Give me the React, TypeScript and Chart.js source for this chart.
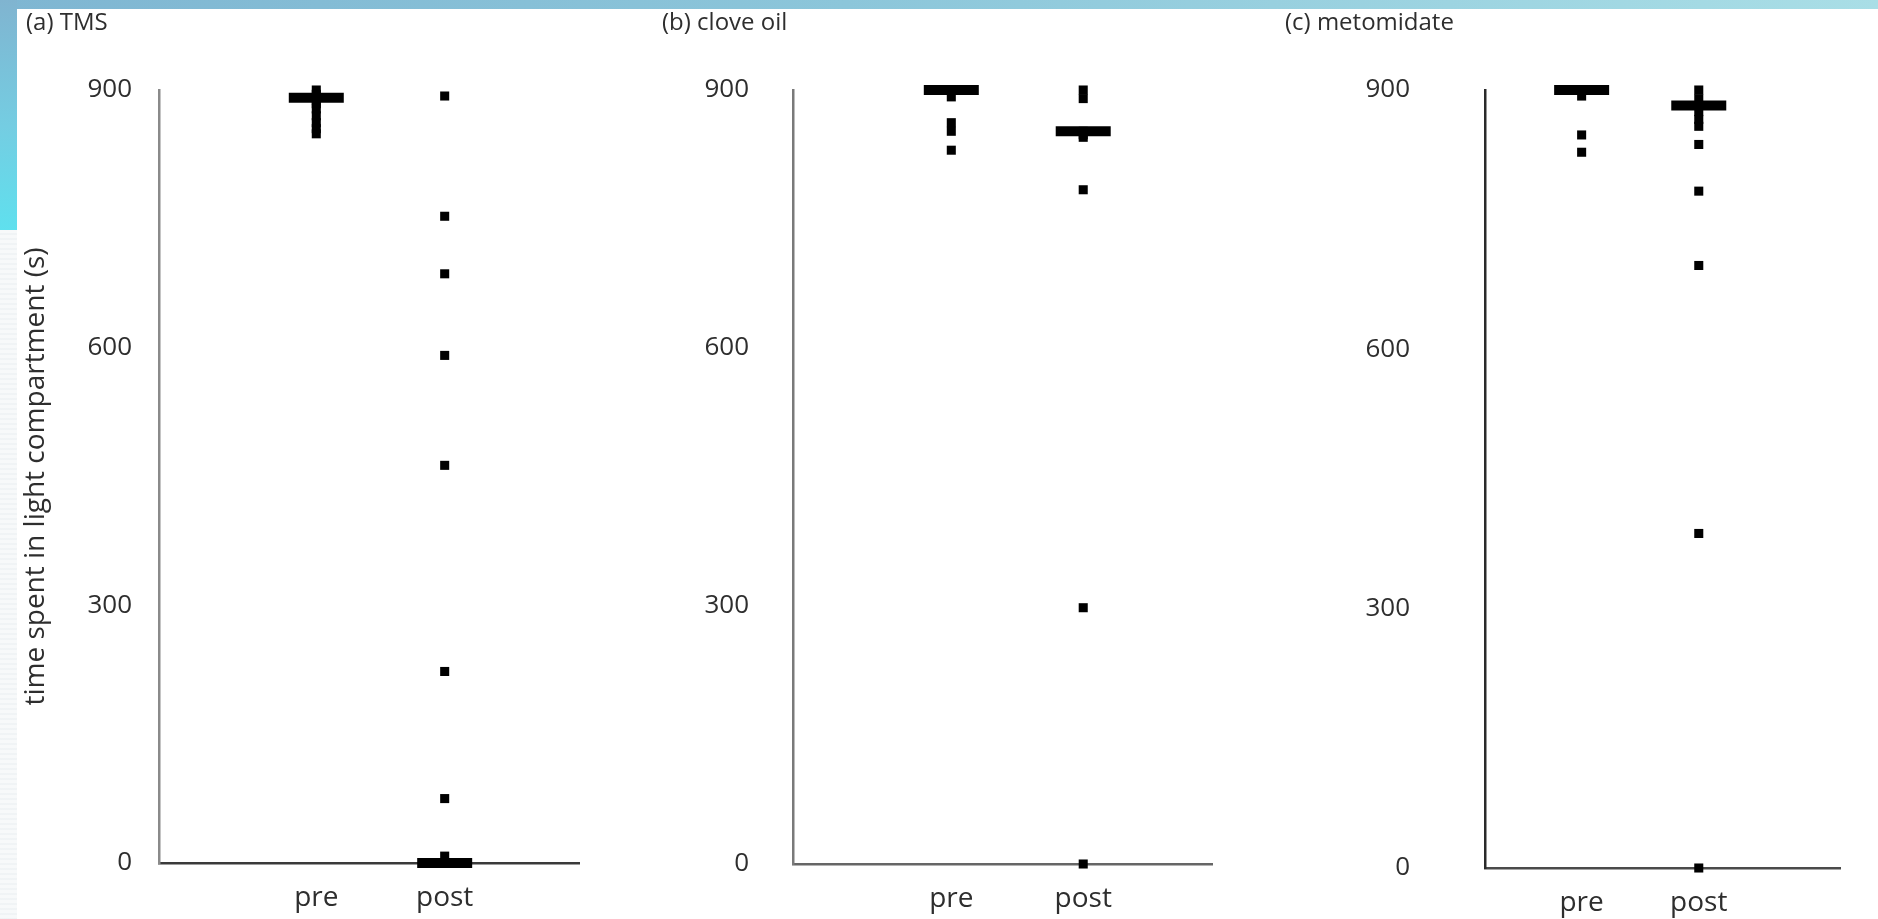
import React, { useEffect, useRef } from "react";
import { Chart, registerables } from "chart.js";

Chart.register(...registerables);

// ---------- data ----------
const categories = ["pre", "post"];
const categoryX = [1, 2];
const yTickValues = [0, 300, 600, 900];
const panelTitles = ["(a) TMS", "(b) clove oil", "(c) metomidate"];
const yAxisTitle = "time spent in light compartment (s)";

const tmsPre = [900, 895, 891, 888, 884, 878, 870, 862, 855, 849];
const tmsPost = [893, 753, 686, 591, 463, 223, 75, 8, 0, 0, 0, 0, 0, 0];
const tmsMedians = [891, 0];

const cloveOilPre = [900, 900, 900, 900, 892, 862, 852, 830];
const cloveOilPost = [900, 890, 852, 848, 845, 784, 298, 0];
const cloveOilMedians = [900, 852];

const metomidatePre = [900, 900, 900, 900, 893, 848, 828];
const metomidatePost = [900, 890, 882, 875, 866, 858, 837, 783, 697, 387, 0];
const metomidateMedians = [900, 882];

// ---------- layout ----------
const FONT = "Open Sans";
const TEXT = "#2e2e2e";
const CANVAS_TOP = 9;
const X_AXIS_H = 90;

type PanelCfg = {
  title: string;
  pre: number[];
  post: number[];
  medians: number[];
  left: number;
  width: number;
  plotBottom: number; // page y of the x axis line
  padLeft: number;
  padRight: number;
  yWidth: number;
  xMin: number;
  xMax: number;
  yTickPad: number;
  showYTitle: boolean;
  yColor: string;
  xColor: string;
};

const panels: PanelCfg[] = [
  {
    title: panelTitles[0], pre: tmsPre, post: tmsPost, medians: tmsMedians,
    left: 17, width: 600, plotBottom: 863, padLeft: 9, padRight: 36, yWidth: 133,
    xMin: -0.225, xMax: 3.05, yTickPad: 27,
    showYTitle: true, yColor: "#8a8a8a", xColor: "#3a3a3a",
  },
  {
    title: panelTitles[1], pre: cloveOilPre, post: cloveOilPost, medians: cloveOilMedians,
    left: 650, width: 600, plotBottom: 864, padLeft: 12, padRight: 28, yWidth: 131,
    xMin: -0.2, xMax: 2.98, yTickPad: 44,
    showYTitle: false, yColor: "#7a7a7a", xColor: "#666666",
  },
  {
    title: panelTitles[2], pre: metomidatePre, post: metomidatePost, medians: metomidateMedians,
    left: 1275, width: 603, plotBottom: 868, padLeft: 10, padRight: 10, yWidth: 200,
    xMin: 0.175, xMax: 3.21, yTickPad: 75,
    showYTitle: false, yColor: "#2a2a2a", xColor: "#4a4a4a",
  },
];

function Panel({ cfg }: { cfg: PanelCfg }) {
  const ref = useRef<HTMLCanvasElement | null>(null);
  const height = cfg.plotBottom - CANVAS_TOP + X_AXIS_H;
  useEffect(() => {
    if (!ref.current) return;
    const base = { family: FONT, weight: "normal" as const };
    const pointDs = (vals: number[], x: number) => ({
      data: vals.map((v) => ({ x, y: v })),
      pointStyle: "rect",
      pointRadius: 6.4,
      pointBackgroundColor: "#000",
      pointBorderWidth: 0,
      clip: false,
    });
    const chart = new Chart(ref.current, {
      type: "scatter",
      data: {
        datasets: [
          pointDs(cfg.pre, categoryX[0]),
          pointDs(cfg.post, categoryX[1]),
          {
            data: cfg.medians.map((v, i) => ({ x: categoryX[i], y: v })),
            pointStyle: "line",
            pointRadius: 27.5,
            pointBorderColor: "#000",
            pointBorderWidth: 10,
            clip: false,
          },
        ] as any,
      },
      options: {
        animation: false,
        responsive: false,
        maintainAspectRatio: false,
        events: [],
        layout: { padding: { left: cfg.padLeft, right: cfg.padRight, top: 0, bottom: 0 } },
        plugins: {
          legend: { display: false },
          tooltip: { enabled: false },
          title: {
            display: true,
            text: cfg.title,
            align: "start",
            color: TEXT,
            font: { ...base, size: 24, lineHeight: 1.2 },
            padding: { top: 0, bottom: 52.2 },
          },
        },
        scales: {
          x: {
            type: "linear",
            min: cfg.xMin,
            max: cfg.xMax,
            afterBuildTicks: (s: any) => {
              s.ticks = categoryX.map((v) => ({ value: v }));
            },
            afterFit: (s: any) => {
              s.height = X_AXIS_H;
            },
            ticks: {
              callback: (v: any) => {
                const i = categoryX.indexOf(Number(v));
                return i >= 0 ? categories[i] : "";
              },
              color: TEXT,
              font: { ...base, size: 28 },
              padding: 18,
              maxRotation: 0,
              autoSkip: false,
            },
            grid: { display: false, drawTicks: false },
            border: { display: true, color: cfg.xColor, width: 2.5 },
          },
          y: {
            type: "linear",
            min: 0,
            max: 900,
            afterBuildTicks: (s: any) => {
              s.ticks = yTickValues.map((v) => ({ value: v }));
            },
            afterFit: (s: any) => {
              s.width = cfg.yWidth;
            },
            ticks: {
              color: TEXT,
              font: { ...base, size: 26, lineHeight: 0.3 },
              padding: cfg.yTickPad,
            },
            grid: { display: false, drawTicks: false },
            border: { display: true, color: cfg.yColor, width: 2.5 },
            title: {
              display: cfg.showYTitle,
              text: yAxisTitle,
              color: TEXT,
              font: { ...base, size: 28, lineHeight: 0.72 },
              padding: 0,
            },
          },
        },
      } as any,
    });
    return () => chart.destroy();
  }, [cfg]);
  return (
    <canvas
      ref={ref}
      width={cfg.width}
      height={height}
      style={{
        position: "absolute",
        left: cfg.left,
        top: CANVAS_TOP,
        width: cfg.width,
        height,
      }}
    />
  );
}

export default function App() {
  return (
    <div
      style={{
        position: "fixed",
        left: 0,
        top: 0,
        width: 1878,
        height: 919,
        background: "#ffffff",
        overflow: "hidden",
      }}
    >
      {/* decorative template frame */}
      <div
        style={{
          position: "absolute",
          left: 0,
          top: 0,
          width: 1878,
          height: 9,
          background: "linear-gradient(to right, #7fb6d2 0%, #8cc6da 45%, #a9dee6 100%)",
        }}
      />
      <div
        style={{
          position: "absolute",
          left: 0,
          top: 0,
          width: 17,
          height: 230,
          background: "linear-gradient(to bottom, #80b4d0 0%, #74cde2 55%, #5fe0ee 100%)",
        }}
      />
      <div
        style={{
          position: "absolute",
          left: 0,
          top: 230,
          width: 17,
          height: 689,
          background: "repeating-linear-gradient(to bottom, #f7f9fa 0px, #f7f9fa 3px, #e9eef1 4px, #f7f9fa 5px)",
        }}
      />
      {panels.map((p, i) => (
        <Panel key={i} cfg={p} />
      ))}
    </div>
  );
}
